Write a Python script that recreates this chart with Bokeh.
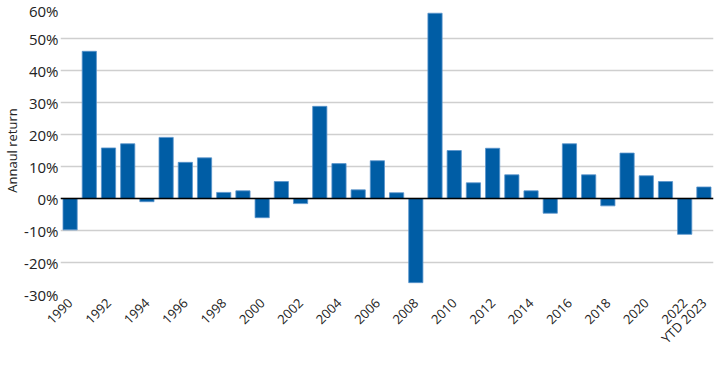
from bokeh.plotting import figure
from bokeh.models import FixedTicker, PrintfTickFormatter, Span
from bokeh.embed import file_html
from bokeh.resources import INLINE
import math

years = [str(y) for y in range(1990, 2023)] + ["YTD 2023"]
returns = [-9.8, 46.0, 15.8, 17.1, -1.0, 19.1, 11.3, 12.7, 1.9, 2.4,
           -6.0, 5.3, -1.6, 28.8, 10.9, 2.7, 11.8, 1.8, -26.3, 57.9,
           15.0, 4.9, 15.7, 7.4, 2.4, -4.6, 17.1, 7.4, -2.3, 14.2,
           7.1, 5.3, -11.2, 3.6]
y_ticks = [-30, -20, -10, 0, 10, 20, 30, 40, 50, 60]

positions = list(range(len(years)))
shown = list(range(0, len(years), 2)) + [len(years) - 1]

FONT = "Open Sans"

p = figure(frame_width=653, frame_height=288, x_range=(-0.5, len(years) - 0.5),
           y_range=(-30, 60), output_backend="svg", toolbar_location=None,
           min_border_left=56, min_border_top=6, min_border_right=2,
           min_border_bottom=50)

p.vbar(x=positions, top=returns, width=0.74, fill_color="#005DA5",
       line_color="#5a94cc", line_width=0.8)

p.add_layout(Span(location=0, dimension="width", line_color="#000000",
                  line_width=1.5))

p.outline_line_color = None
p.background_fill_color = "white"
p.border_fill_color = "white"

p.xgrid.grid_line_color = None
p.ygrid.grid_line_color = "#cfcfcf"
p.ygrid.grid_line_width = 1.5
p.ygrid.ticker = FixedTicker(ticks=y_ticks)

p.yaxis.ticker = FixedTicker(ticks=y_ticks)
p.yaxis.formatter = PrintfTickFormatter(format="%d%%")
p.yaxis.axis_line_color = None
p.yaxis.major_tick_line_color = None
p.yaxis.major_tick_out = 0
p.yaxis.major_tick_in = 0
p.yaxis.minor_tick_line_color = None
p.yaxis.major_label_text_font = FONT
p.yaxis.major_label_text_font_size = "15px"
p.yaxis.major_label_text_color = "#222222"
p.yaxis.major_label_standoff = 2
p.yaxis.axis_label = "Annaul return"
p.yaxis.axis_label_text_font = FONT
p.yaxis.axis_label_text_font_size = "13px"
p.yaxis.axis_label_text_font_style = "normal"
p.yaxis.axis_label_text_color = "#222222"
p.yaxis.axis_label_standoff = 0

p.xaxis.ticker = FixedTicker(ticks=shown)
p.xaxis.axis_line_color = None
p.xaxis.major_tick_line_color = None
p.xaxis.major_tick_out = 0
p.xaxis.major_tick_in = 0
p.xaxis.minor_tick_line_color = None
p.xaxis.major_label_orientation = math.pi / 4
p.xaxis.major_label_text_font = FONT
p.xaxis.major_label_text_font_size = "13px"
p.xaxis.major_label_text_color = "#222222"
p.xaxis.major_label_standoff = 6
p.xaxis.major_label_overrides = {i: years[i] for i in shown}

open("out.html", "w").write(file_html(p, INLINE))
